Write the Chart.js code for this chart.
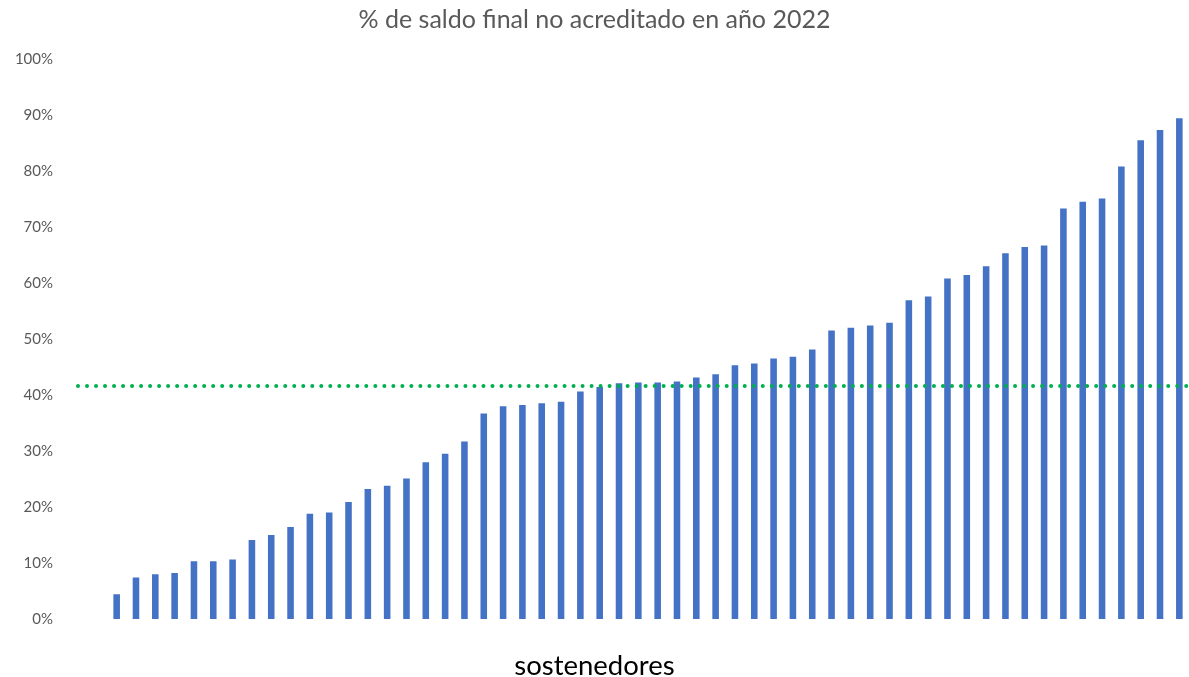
<!DOCTYPE html>
<html>
<head>
<meta charset="utf-8">
<script src="https://cdn.jsdelivr.net/npm/chart.js@4.4.1/dist/chart.umd.min.js"></script>
<style>
  html, body { margin: 0; padding: 0; background: #ffffff; }
  #wrap { width: 1189px; height: 677px; position: relative; }
</style>
</head>
<body>
<div id="wrap"><canvas id="c"></canvas></div>
<script>
const titleText = '% de saldo final no acreditado en año 2022';
const xAxisTitle = 'sostenedores';
const categories = [1,2,3,4,5,6,7,8,9,10,11,12,13,14,15,16,17,18,19,20,21,22,23,24,25,26,27,28,29,30,31,32,33,34,35,36,37,38,39,40,41,42,43,44,45,46,47,48,49,50,51,52,53,54,55,56];
const pctNoAcreditado = [4.5,7.5,8.1,8.3,10.4,10.4,10.7,14.2,15.1,16.5,18.9,19.1,21.0,23.3,23.9,25.2,28.1,29.6,31.8,36.8,38.1,38.3,38.6,38.9,40.7,41.5,42.2,42.3,42.3,42.5,43.2,43.8,45.4,45.7,46.6,46.9,48.2,51.6,52.1,52.5,53.0,57.0,57.7,60.9,61.5,63.1,65.4,66.5,66.8,73.4,74.6,75.2,80.9,85.6,87.4,89.5];
const promedio = 41.7;
const yTicks = [0,10,20,30,40,50,60,70,80,90,100];

const FONT = 'Lato, "Open Sans", sans-serif';

const avgLinePlugin = {
  id: 'avgLine',
  afterDatasetsDraw(chart) {
    const y = chart.scales.y.getPixelForValue(promedio);
    const ctx = chart.ctx;
    ctx.save();
    ctx.strokeStyle = '#00B050';
    ctx.lineWidth = 4;
    ctx.lineCap = 'round';
    ctx.setLineDash([0.01, 9]);
    ctx.beginPath();
    ctx.moveTo(78, y);
    ctx.lineTo(chart.width, y);
    ctx.stroke();
    ctx.restore();
  }
};

new Chart(document.getElementById('c'), {
  type: 'bar',
  data: {
    labels: categories,
    datasets: [{
      label: '% saldo no acreditado',
      data: pctNoAcreditado,
      backgroundColor: '#4472C4',
      borderWidth: 0,
      barPercentage: 0.34,
      categoryPercentage: 1.0
    }]
  },
  options: {
    responsive: true,
    maintainAspectRatio: false,
    animation: false,
    layout: { padding: { left: 0, right: 0, top: 0, bottom: 0 } },
    plugins: {
      legend: { display: false },
      tooltip: { enabled: false },
      title: {
        display: true,
        text: titleText,
        color: '#595959',
        font: { family: FONT, size: 25, weight: 'normal', lineHeight: 1.2 },
        padding: { top: 5, bottom: 24.5 }
      },
      subtitle: {
        display: true,
        position: 'bottom',
        text: xAxisTitle,
        color: '#000000',
        font: { family: FONT, size: 27.5, weight: 'normal', lineHeight: 0.8 },
        padding: { top: 35.5, bottom: 0 }
      }
    },
    scales: {
      x: {
        afterFit(scale) { scale.height = 0; },
        grid: { display: false, drawTicks: false },
        border: { display: false },
        ticks: { display: false }
      },
      y: {
        min: 0,
        max: 100,
        afterFit(scale) { scale.width = 107; },
        afterBuildTicks(scale) { scale.ticks = yTicks.map(v => ({ value: v })); },
        grid: { display: true, drawOnChartArea: false, drawTicks: true, tickLength: 54, color: 'rgba(0,0,0,0)' },
        border: { display: false },
        ticks: {
          padding: 0,
          color: '#595959',
          font: { family: FONT, size: 15 },
          callback: v => v + '%'
        }
      }
    }
  },
  plugins: [avgLinePlugin]
});
</script>
</body>
</html>
